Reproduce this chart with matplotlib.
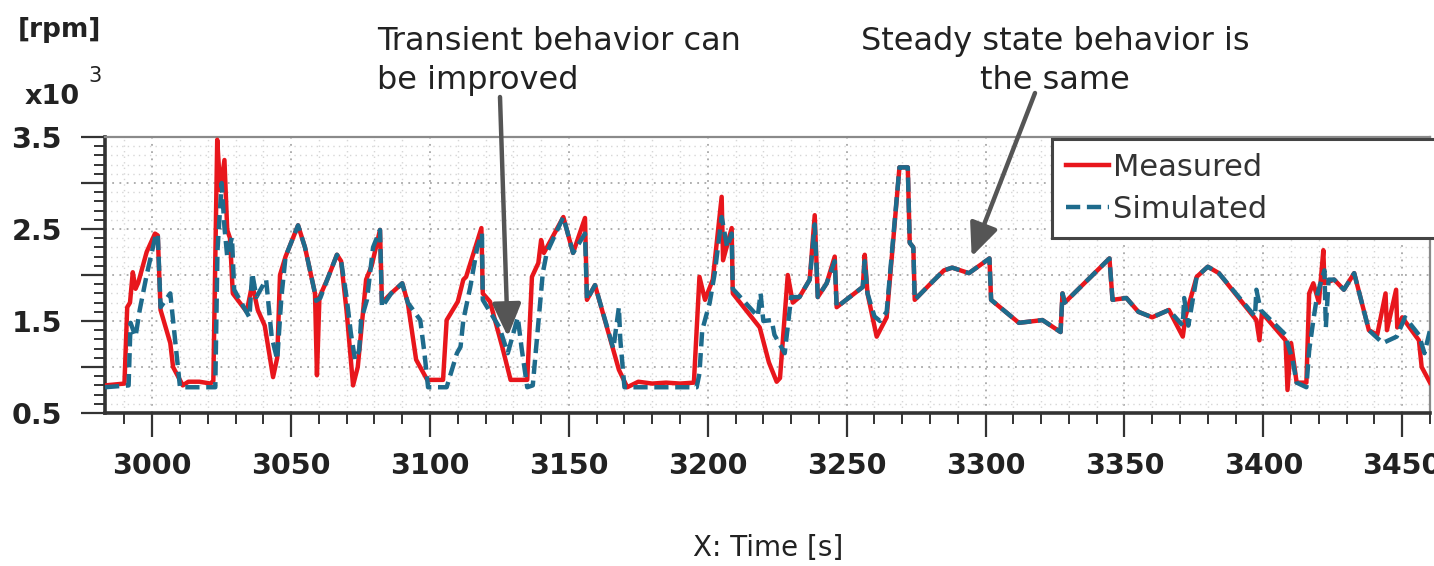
import matplotlib
matplotlib.use('Agg')
import matplotlib.pyplot as plt
from matplotlib.ticker import MultipleLocator, FuncFormatter

# measured speed [x10^3 rpm] vs time [s]
meas_t = [2983, 2990, 2991, 2992, 2993, 2994, 2995, 2998, 3001, 3002, 3003, 3006.5, 3007.5,
          3011, 3013, 3017, 3021, 3022, 3023.4, 3024.5, 3026, 3027, 3028, 3029, 3034, 3036,
          3038, 3040.5, 3043.5, 3045, 3046, 3048, 3052.5, 3055, 3058.6, 3059.3, 3060.2, 3063,
          3066.5, 3068, 3070, 3072.3, 3074, 3077, 3079, 3082, 3082.7, 3086, 3090, 3092, 3095,
          3099, 3104.7, 3106, 3110, 3112, 3113, 3118.5, 3119, 3121.6, 3126, 3129, 3135, 3136.7,
          3139, 3140, 3141, 3148, 3151.5, 3155.8, 3156.5, 3159.4, 3168, 3171, 3175, 3180, 3185,
          3190, 3195, 3197, 3199, 3201.8, 3205, 3205.5, 3208.6, 3209, 3218.7, 3222, 3224.8, 3226,
          3228.8, 3230.6, 3233, 3236.7, 3238.5, 3239.6, 3242.8, 3245.7, 3246.4, 3255.8, 3256.5,
          3257.5, 3260.8, 3264.4, 3269, 3272, 3272.7, 3274, 3274.5, 3280, 3285, 3288, 3294,
          3301.4, 3302, 3312, 3320.5, 3327, 3327.7, 3328.5, 3344.6, 3345.7, 3350.7, 3355, 3360,
          3366, 3371, 3372, 3376, 3380, 3384, 3397.5, 3398.6, 3399.5, 3408, 3408.7, 3410, 3412,
          3415.5, 3416.5, 3418, 3420, 3421.6, 3422, 3425.5, 3429, 3432.7, 3438, 3441, 3444,
          3444.5, 3447.8, 3448.2, 3450, 3456, 3457, 3460]
meas_v = [0.80, 0.82, 1.65, 1.70, 2.03, 1.85, 1.92, 2.25, 2.45, 2.43, 1.62, 1.26, 1.00,
          0.80, 0.84, 0.84, 0.82, 0.85, 3.47, 2.92, 3.25, 2.49, 2.40, 1.80, 1.60, 1.90,
          1.62, 1.45, 0.89, 1.10, 2.00, 2.20, 2.54, 2.30, 1.80, 0.91, 1.76, 1.95,
          2.22, 2.15, 1.60, 0.80, 1.00, 1.95, 2.10, 2.49, 1.70, 1.80, 1.91, 1.70, 1.08,
          0.86, 0.86, 1.51, 1.71, 1.95, 1.98, 2.51, 1.80, 1.71, 1.22, 0.86, 0.86, 1.98,
          2.13, 2.38, 2.24, 2.63, 2.24, 2.62, 1.73, 1.89, 0.97, 0.78, 0.84, 0.82, 0.83,
          0.82, 0.83, 1.98, 1.73, 1.95, 2.85, 2.16, 2.51, 1.80, 1.43, 1.05, 0.84, 0.88,
          2.00, 1.70, 1.76, 1.95, 2.65, 1.76, 1.91, 2.20, 1.65, 1.87, 2.22,
          1.80, 1.33, 1.54, 3.17, 3.17, 2.35, 2.30, 1.73, 1.90, 2.05, 2.08, 2.02,
          2.18, 1.73, 1.48, 1.51, 1.38, 1.80, 1.70, 2.18, 1.73, 1.75, 1.60, 1.54,
          1.62, 1.33, 1.55, 1.98, 2.09, 2.02, 1.51, 1.29, 1.59, 1.29, 0.75, 1.26, 0.83,
          0.83, 1.80, 1.91, 1.70, 2.27, 1.91, 1.95, 1.84, 2.02, 1.40, 1.35, 1.80,
          1.40, 1.84, 1.43, 1.54, 1.29, 1.00, 0.83]

# simulated speed [x10^3 rpm] vs time [s]
sim_t = [2983, 2991.5, 2992.2, 2994, 2995.5, 2998, 3001, 3002, 3003, 3006.5, 3007.5, 3010,
         3022.7, 3023.5, 3025, 3026, 3027, 3028.7, 3029.5, 3035, 3036, 3037.5, 3041, 3043,
         3045, 3046.5, 3048, 3052.5, 3055, 3058.6, 3059, 3060.5, 3063, 3066.5, 3068, 3070,
         3071.5, 3073, 3074.5, 3075.2, 3077.3, 3079.5, 3082, 3082.7, 3086, 3090, 3092,
         3096.5, 3098, 3099.3, 3106, 3109.7, 3111, 3112, 3114.5, 3117, 3118.7, 3119, 3125,
         3128, 3131.6, 3133, 3135, 3137, 3140.6, 3142, 3148, 3151.5, 3155.8, 3156.5, 3159.4,
         3166, 3168, 3168.5, 3170, 3196, 3197, 3198, 3200.7, 3202.5, 3205, 3207, 3208.6, 3209,
         3218, 3219, 3220, 3223, 3224, 3227.7, 3230, 3233, 3236.7, 3238.5, 3239.6, 3242.8,
         3245.7, 3246.4, 3255.8, 3256.5, 3257.5, 3260, 3262, 3264.4, 3269, 3272, 3272.7,
         3274, 3274.5, 3280, 3285, 3288, 3294, 3301.4, 3302, 3312, 3320.5, 3327, 3327.7,
         3328.5, 3344.6, 3345.7, 3350.7, 3355, 3360, 3366, 3371, 3371.5, 3373, 3376, 3380,
         3384, 3397, 3397.5, 3399, 3408, 3408.7, 3410.5, 3412, 3415.5, 3416.5, 3418, 3419.5,
         3422, 3422.5, 3423.5, 3425.5, 3429, 3432.7, 3438, 3443, 3448, 3451, 3456, 3458, 3460]
sim_v = [0.78, 0.80, 1.48, 1.33, 1.62, 2.00, 2.40, 2.45, 1.65, 1.80, 1.51, 0.78,
         0.78, 2.27, 3.00, 2.52, 2.20, 2.41, 1.84, 1.54, 2.02, 1.76, 1.95, 1.33,
         1.08, 1.76, 2.20, 2.54, 2.30, 1.80, 1.72, 1.75, 1.95, 2.22, 2.15, 1.75,
         1.37, 1.08, 1.18, 1.51, 1.73, 2.30, 2.49, 1.65, 1.80, 1.91, 1.70,
         1.51, 1.15, 0.78, 0.78, 1.15, 1.22, 1.51, 1.87, 2.30, 2.45, 1.73, 1.43,
         1.15, 1.54, 1.20, 0.78, 0.80, 2.02, 2.24, 2.63, 2.24, 2.45, 1.73, 1.89,
         1.20, 1.65, 1.30, 0.78, 0.78, 0.93, 1.40, 1.70, 2.02, 2.63, 2.30, 2.45, 1.85,
         1.55, 1.80, 1.50, 1.51, 1.35, 1.15, 1.76, 1.76, 1.95, 2.55, 1.76, 1.91,
         2.15, 1.65, 1.87, 2.15, 1.80, 1.55, 1.50, 1.60, 3.17, 3.17, 2.35,
         2.30, 1.73, 1.90, 2.05, 2.08, 2.02, 2.18, 1.73, 1.48, 1.51, 1.38, 1.80,
         1.70, 2.18, 1.73, 1.75, 1.60, 1.54, 1.62, 1.45, 1.75, 1.45, 1.98, 2.09,
         2.02, 1.55, 1.84, 1.62, 1.35, 1.26, 1.08, 0.83, 0.78, 1.18, 1.51, 1.80,
         2.05, 1.43, 1.95, 1.95, 1.84, 2.02, 1.40, 1.26, 1.33, 1.54, 1.35, 1.15, 1.40]

fig = plt.figure(figsize=(14.34, 5.66), dpi=100)
ax = fig.add_axes([105 / 1434, 1 - 413 / 566, 1325 / 1434, 276 / 566])

ax.plot(meas_t, meas_v, color='#e8161c', lw=3.2, label='Measured', zorder=3)
ax.plot(sim_t, sim_v, color='#1e6b8c', lw=3.2, ls='--', dashes=(3.2, 1.5),
        label='Simulated', zorder=4)

ax.set_xlim(2983, 3460)
ax.set_ylim(0.5, 3.5)

ax.xaxis.set_major_locator(MultipleLocator(50))
ax.xaxis.set_minor_locator(MultipleLocator(10))
ax.yaxis.set_major_locator(MultipleLocator(0.5))
ax.yaxis.set_minor_locator(MultipleLocator(0.1))
ax.yaxis.set_major_formatter(FuncFormatter(lambda v, p: f'{v:.1f}' if abs(v * 2 % 2 - 1) < 1e-6 else ''))

ax.grid(which='major', color='#a8a8a8', ls=(0, (1, 3)), lw=1.3)
ax.grid(which='minor', color='#d6d6d6', ls=(0, (1, 3)), lw=1.0)
ax.set_axisbelow(True)

ax.tick_params(which='major', length=17, width=1.6, color='#333333', pad=11,
               labelsize=20.5)
ax.tick_params(which='minor', length=8, width=1.4, color='#333333')
ax.tick_params(axis='y', which='major', pad=14)
for lab in ax.get_xticklabels() + ax.get_yticklabels():
    lab.set_fontweight('bold')
    lab.set_color('#222222')

for s in ['left', 'bottom']:
    ax.spines[s].set_linewidth(2.6)
    ax.spines[s].set_color('#333333')
for s in ['top', 'right']:
    ax.spines[s].set_linewidth(1.6)
    ax.spines[s].set_color('#8a8a8a')

leg = ax.legend(loc='upper left', bbox_to_anchor=(1052 / 1434, 1 - 140 / 566, 400 / 1434, 0.001),
                bbox_transform=fig.transFigure, mode='expand', fontsize=22,
                handlelength=1.4, handletextpad=0.15, labelspacing=0.42,
                borderpad=0.45, borderaxespad=0, fancybox=False, framealpha=1)
leg.get_frame().set_edgecolor('#444444')
leg.get_frame().set_linewidth(2.2)
for t in leg.get_texts():
    t.set_color('#333333')

# labels
fig.text(18 / 1434, 1 - 30 / 566, '[rpm]', fontsize=19, fontweight='bold',
         color='#222222', va='center', ha='left')
fig.text(25 / 1434, 1 - 97 / 566, 'x10', fontsize=19.5, fontweight='bold',
         color='#222222', va='center', ha='left')
fig.text(88 / 1434, 1 - 76 / 566, '3', fontsize=15, color='#222222', va='center', ha='left')
fig.text(768 / 1434, 1 - 548 / 566, 'X: Time [s]', fontsize=20, color='#222222',
         va='center', ha='center')

# annotations
fig.text(377 / 1434, 1 - 61 / 566, 'Transient behavior can\nbe improved', fontsize=23,
         color='#222222', va='center', ha='left', linespacing=1.35)
fig.text(1055 / 1434, 1 - 61 / 566, 'Steady state behavior is\nthe same', fontsize=23,
         color='#222222', va='center', ha='center', linespacing=1.35)

arrow = dict(arrowstyle='-|>,head_length=0.8,head_width=0.35', color='#555555',
             lw=3.2, mutation_scale=25, shrinkA=0, shrinkB=0)
ax.annotate('', xy=(3128, 1.33), xycoords='data',
            xytext=(500 / 1434, 1 - 97 / 566), textcoords='figure fraction',
            arrowprops=arrow, annotation_clip=False)
ax.annotate('', xy=(3295, 2.2), xycoords='data',
            xytext=(1035 / 1434, 1 - 93 / 566), textcoords='figure fraction',
            arrowprops=arrow, annotation_clip=False)

fig.savefig('out.png', dpi=100)
